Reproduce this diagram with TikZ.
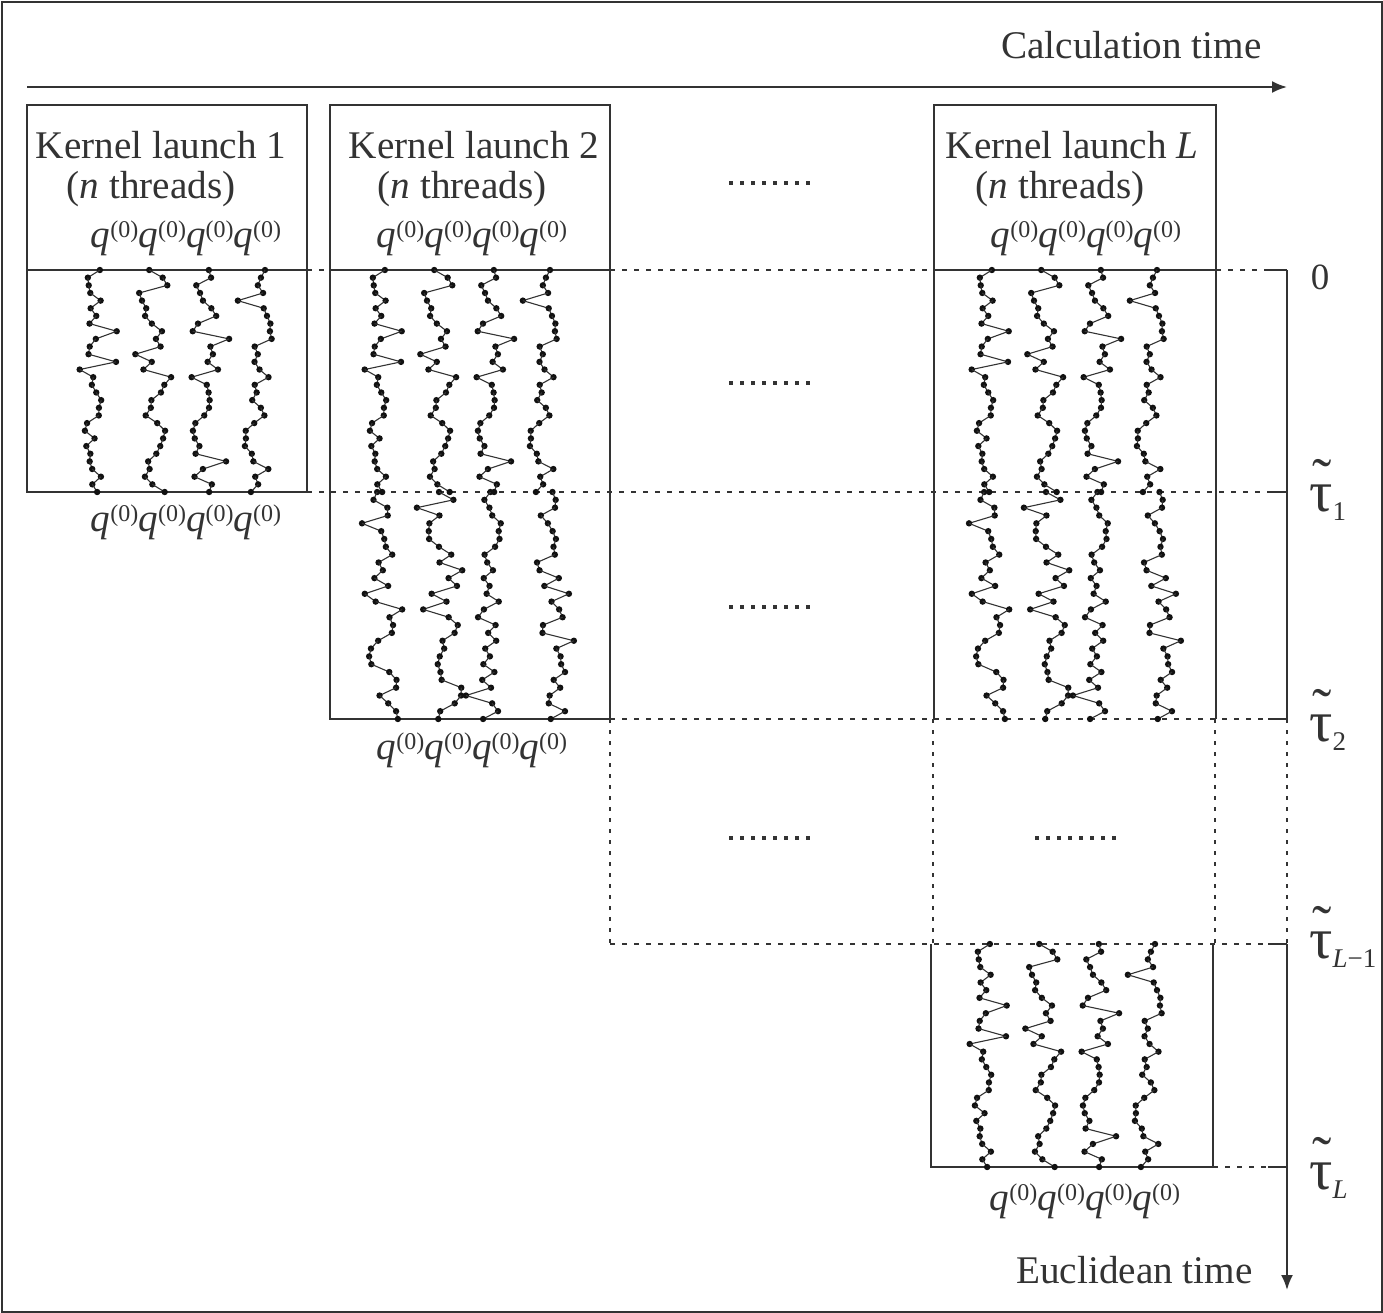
\documentclass[tikz,border=0pt]{standalone}
\usepackage{fontspec}
\setmainfont{Liberation Serif}
\usetikzlibrary{arrows.meta}
\definecolor{ink}{HTML}{333333}
\definecolor{dotc}{HTML}{111111}
\tikzset{
  frameline/.style={draw=ink, line width=1pt},
  boxline/.style={draw=ink, line width=1pt},
  dashline/.style={draw=ink, line width=1pt, dash pattern=on 2.5pt off 3.5pt},
  dotline/.style={draw=ink, line width=1pt, dash pattern=on 2pt off 3.5pt},
  walkline/.style={draw=ink, line width=0.55pt},
  arrowline/.style={draw=ink, line width=1pt, -{Latex[length=7.5pt,width=6pt]}},
  txt/.style={font=\fontsize{19.6}{23.5}\selectfont, text=ink, inner sep=0pt},
  ttxt/.style={font=\fontsize{29}{32}\selectfont, text=ink, inner sep=0pt},
}
\newcommand\qz{\textit{q}\raisebox{5pt}{\fontsize{12}{12}\selectfont(0)}}
\newcommand\qqqq{\qz\qz\qz\qz}
\newcommand\ttau{\makebox[0pt][l]{\hspace{0.05em}\raisebox{0.21em}{˜}}τ}
\newcommand\tsub[1]{\raisebox{-0.17em}{\fontsize{13.5}{13.5}\selectfont #1}}
% one random walk column: centre x, top y, height
\newcommand\walkcol[3]{%
  \pgfmathsetmacro\wcen{#1}%
  \pgfmathsetmacro\wd{6*(2*rnd-1)}%
  \xdef\wpd{\wd}\xdef\wpy{#2}%
  \xdef\wdrift{0}%
  \pgfmathsetmacro\wdy{#3/29}%
  \fill[dotc] (\wcen+\wpd,\wpy) circle[radius=1.6pt];
  \foreach \i in {1,...,29}{%
    \pgfmathsetmacro\wr{rnd}%
    \pgfmathsetmacro\wdr{max(-8,min(8,\wdrift+3*(2*rnd-1)))}%
    \pgfmathsetmacro\wa{\wdr+ifthenelse(\wpd>\wdr,-1,1)*(14+10*rnd)}%
    \pgfmathsetmacro\wb{\wdr+0.3*(\wpd-\wdr)+11*(2*rnd-1)}%
    \pgfmathsetmacro\wn{ifthenelse(\wr<0.08,\wa,\wb)}%
    \pgfmathsetmacro\wy{#2+\i*\wdy}%
    \draw[walkline] (\wcen+\wpd,\wpy) -- (\wcen+\wn,\wy);
    \fill[dotc] (\wcen+\wn,\wy) circle[radius=1.6pt];
    \xdef\wpd{\wn}\xdef\wpy{\wy}\xdef\wdrift{\wdr}%
  }%
}
% four columns: first column x, top y, height, seed
\newcommand\walkset[4]{%
  \pgfmathsetseed{#4}%
  \foreach \off in {0,57,110,167}{%
    \pgfmathsetmacro\wcx{#1+\off}%
    \walkcol{\wcx}{#2}{#3}%
  }%
}
\newcommand\dotrow[2]{%
  \foreach \k in {0,...,7}{\fill[ink] ({#1+11*\k-2},{#2-2}) rectangle ++(4,4);}%
}
\begin{document}
\begin{tikzpicture}[x=0.5pt,y=-0.5pt]
\useasboundingbox (0,0) rectangle (1383,1313);
\draw[frameline] (1.5,1.5) rectangle (1381.5,1311.5);

% calculation time axis
\coordinate (ct0) at (27,87);
\coordinate (ct1) at (1287,87);
\draw[arrowline] (ct0) -- (ct1);
\node[txt, anchor=base east] (calc) at (1262,58) {Calculation time};

% box 1
\coordinate (b1tl) at (27,105); \coordinate (b1tr) at (307,105);
\coordinate (b1ml) at (27,270); \coordinate (b1mr) at (307,270);
\coordinate (b1bl) at (27,492); \coordinate (b1br) at (307,492);
\draw[boxline] (b1bl) -- (b1tl) -- (b1tr) -- (b1br) -- cycle;
\draw[boxline] (b1ml) -- (b1mr);

% box 2
\coordinate (b2tl) at (330,105); \coordinate (b2tr) at (610,105);
\coordinate (b2ml) at (330,270); \coordinate (b2mr) at (610,270);
\coordinate (b2bl) at (330,719); \coordinate (b2br) at (610,719);
\draw[boxline] (b2bl) -- (b2tl) -- (b2tr) -- (b2br) -- cycle;
\draw[boxline] (b2ml) -- (b2mr);

% box L
\coordinate (bLtl) at (934,105); \coordinate (bLtr) at (1216,105);
\coordinate (bLml) at (934,270); \coordinate (bLmr) at (1216,270);
\coordinate (bLbl) at (934,719); \coordinate (bLbr) at (1216,719);
\draw[boxline] (bLbl) -- (bLtl) -- (bLtr) -- (bLbr);
\draw[boxline] (bLml) -- (bLmr);

% lower box
\coordinate (lbtl) at (931,944); \coordinate (lbtr) at (1213,944);
\coordinate (lbbl) at (931,1167); \coordinate (lbbr) at (1213,1167);
\draw[boxline] (lbtl) -- (lbbl) -- (lbbr) -- (lbtr);

% right axis ticks
\coordinate (t0a) at (1268,270);  \coordinate (t0) at (1287,270);
\coordinate (t1a) at (1268,492);  \coordinate (t1) at (1287,492);
\coordinate (t2a) at (1268,719);  \coordinate (t2) at (1287,719);
\coordinate (t3a) at (1268,944);  \coordinate (t3) at (1287,944);
\coordinate (t4a) at (1268,1167); \coordinate (t4) at (1287,1167);
\coordinate (tend) at (1287,1290);
\foreach \a/\b in {t0a/t0,t1a/t1,t2a/t2,t3a/t3,t4a/t4}{\draw[boxline] (\a) -- (\b);}
\draw[boxline] (t0) -- (t2);
\draw[dotline] (t2) -- (t3);
\draw[arrowline] (t3) -- (tend);

% dashed level lines
\draw[dashline] (b1mr) -- (b2ml);
\draw[dashline] (b2mr) -- (bLml);
\draw[dashline] (bLmr) -- (t0a);
\draw[dashline] (b1br) -- (t1a);
\draw[dashline] (b2br) -- (t2a);
\coordinate (d3l) at (610,944);
\draw[dashline] (d3l) -- (t3a);
\draw[dashline] (lbbr) -- (t4a);

% dotted verticals between tau2 and tau_{L-1}
\coordinate (v1a) at (610,719);  \coordinate (v1b) at (610,944);
\coordinate (v2a) at (933,719);  \coordinate (v2b) at (933,944);
\coordinate (v3a) at (1215,719); \coordinate (v3b) at (1215,944);
\draw[dotline] (v1a) -- (v1b);
\draw[dotline] (v2a) -- (v2b);
\draw[dotline] (v3a) -- (v3b);

% header texts
\node[txt, anchor=base] (k1a) at (161,158) {Kernel launch 1};
\node[txt, anchor=base] (k1b) at (151,198) {(\textit{n} threads)};
\node[txt, anchor=base] (k1c) at (186,247) {\qqqq};
\node[txt, anchor=base] (k2a) at (474,158) {Kernel launch 2};
\node[txt, anchor=base] (k2b) at (462,198) {(\textit{n} threads)};
\node[txt, anchor=base] (k2c) at (472,247) {\qqqq};
\node[txt, anchor=base] (kLa) at (1072,158) {Kernel launch \textit{L}};
\node[txt, anchor=base] (kLb) at (1060,198) {(\textit{n} threads)};
\node[txt, anchor=base] (kLc) at (1086,247) {\qqqq};
\node[txt, anchor=base] (q1) at (186,531) {\qqqq};
\node[txt, anchor=base] (q2) at (472,759) {\qqqq};
\node[txt, anchor=base] (q3) at (1085,1210) {\qqqq};

% dots
\dotrow{731}{183}
\dotrow{731}{383}
\dotrow{731}{607}
\dotrow{731}{838}
\dotrow{1037}{838}

% random walks
\walkset{98}{270}{222}{11}
\walkset{383}{270}{222}{11}
\walkset{990}{270}{222}{11}
\walkset{988}{944}{223}{11}
\walkset{383}{492}{227}{23}
\walkset{990}{492}{227}{23}

% axis labels
\node[txt, anchor=base, font=\fontsize{18.5}{22}\selectfont] (l0) at (1320,289) {0};
\node[ttxt, anchor=base west] (l1) at (1309,511) {\ttau\tsub{1}};
\node[ttxt, anchor=base west] (l2) at (1309,741) {\ttau\tsub{2}};
\node[ttxt, anchor=base west] (l3) at (1309,958) {\ttau\tsub{\textit{L}−1}};
\node[ttxt, anchor=base west] (l4) at (1309,1189) {\ttau\tsub{\textit{L}}};
\node[txt, anchor=base east] (eucl) at (1253,1283) {Euclidean time};
\end{tikzpicture}
\end{document}
